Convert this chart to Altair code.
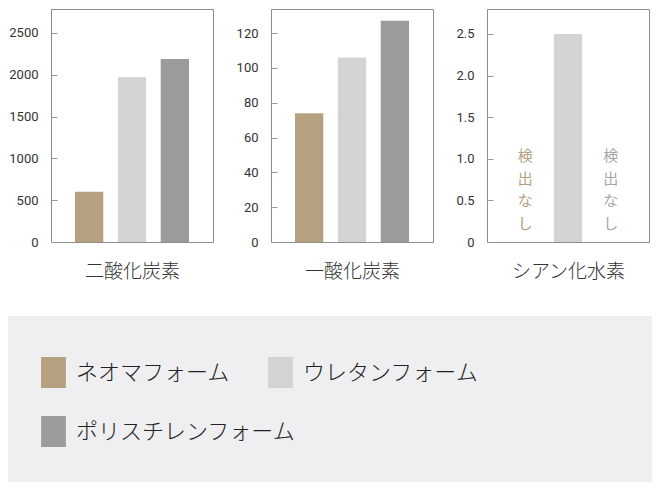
import altair as alt
import pandas as pd

# ---- data ----
MATERIALS = ["ネオマフォーム", "ウレタンフォーム", "ポリスチレンフォーム"]
COLORS = ["#b5a080", "#d3d3d3", "#9b9b9b"]
GASES = ["二酸化炭素", "一酸化炭素", "シアン化水素"]
CO2 = [600, 1970, 2190]
CO = [74, 106, 127]
HCN = [None, 2.5, None]
NOT_DETECTED = "検出なし"
HCN_NOT_DETECTED = ["ネオマフォーム", "ポリスチレンフォーム"]
TICKS_CO2 = [0, 500, 1000, 1500, 2000, 2500]
TICKS_CO = [0, 20, 40, 60, 80, 100, 120]
TICKS_HCN = [0, 0.5, 1.0, 1.5, 2.0, 2.5]

# legend rows as in the reference
ROW1 = MATERIALS[:2]
ROW2 = MATERIALS[2:]

# ---- styling / layout ----
PANEL_W = 162
PANEL_H = 233
DOMAIN_MAX = [2787, 133.8, 2.80]
NOTE_Y = 1.03
JP_FONT = "Noto Sans CJK JP"
AXIS_EXTENT = 43
BOX_W = 644 - AXIS_EXTENT
BOX_H = 166

x_scale = alt.Scale(domain=MATERIALS, paddingInner=0.34, paddingOuter=0.56)
scale_row1 = alt.Scale(domain=ROW1, range=COLORS[:2])
scale_row2 = alt.Scale(domain=ROW2, range=COLORS[2:])

legend_style = dict(
    title=None,
    orient="none",
    direction="horizontal",
    legendX=-13,
    columnPadding=34,
    symbolType="M-0.8,-1H0.8V1H-0.8Z",
    symbolSize=961,
    symbolStrokeWidth=0,
    symbolOpacity=1,
    labelFont=JP_FONT,
    labelFontSize=22,
    labelFontWeight=300,
    labelColor="#222222",
    labelOffset=7,
    labelLimit=400,
    padding=0,
)
legend_row1 = alt.Legend(legendY=348, **legend_style)
legend_row2 = alt.Legend(legendY=407, **legend_style)


def panel(gas, values, ticks, ymax, label_expr, with_notes=False):
    df = pd.DataFrame({"material": MATERIALS, "value": values}).dropna()
    x = alt.X(
        "material:N",
        scale=x_scale,
        sort=MATERIALS,
        axis=alt.Axis(
            title=gas,
            labels=False,
            ticks=False,
            domain=False,
            titleFont=JP_FONT,
            titleFontSize=19,
            titleFontWeight=300,
            titleColor="#333333",
            titlePadding=20,
        ),
    )
    y_scale = alt.Scale(domain=[0, ymax], nice=False, zero=True)
    y = alt.Y(
        "value:Q",
        scale=y_scale,
        axis=alt.Axis(
            title=None,
            values=ticks,
            labelExpr=label_expr,
            grid=False,
            domain=False,
            offset=-6,
            tickSize=6,
            tickColor="#999999",
            labelPadding=13,
            labelFont="Roboto",
            labelFontSize=13,
            labelColor="#333333",
        ),
    )
    bars_a = alt.Chart(df[df["material"].isin(ROW1)]).mark_bar().encode(
        x=x,
        y=y,
        color=alt.Color("material:N", scale=scale_row1, legend=legend_row1),
    )
    bars_b = alt.Chart(df[df["material"].isin(ROW2)]).mark_bar().encode(
        x=x,
        y=y,
        fill=alt.Fill("material:N", scale=scale_row2, legend=legend_row2),
    )
    layers = [bars_a, bars_b]
    if with_notes:
        notes = pd.DataFrame(
            {
                "material": HCN_NOT_DETECTED,
                "note": ["\n".join(NOT_DETECTED)] * len(HCN_NOT_DETECTED),
            }
        )
        text = alt.Chart(notes).mark_text(
            lineBreak="\n",
            font=JP_FONT,
            fontSize=15,
            lineHeight=22.5,
            baseline="middle",
            align="center",
        ).encode(
            x=alt.X("material:N", scale=x_scale, sort=MATERIALS),
            y=alt.datum(NOTE_Y),
            text="note:N",
            color=alt.condition(
                alt.datum.material == MATERIALS[0],
                alt.value(COLORS[0]),
                alt.value("#a6a6a6"),
            ),
        )
        layers.append(text)
    return alt.layer(*layers).properties(width=PANEL_W, height=PANEL_H)


p1 = panel(GASES[0], CO2, TICKS_CO2, DOMAIN_MAX[0], "format(datum.value, 'd')")
p2 = panel(GASES[1], CO, TICKS_CO, DOMAIN_MAX[1], "format(datum.value, 'd')")
p3 = panel(
    GASES[2],
    HCN,
    TICKS_HCN,
    DOMAIN_MAX[2],
    "datum.value == 0 ? '0' : format(datum.value, '.1f')",
    with_notes=True,
)

top = alt.hconcat(p1, p2, p3, spacing=21)

# light grey band behind the legend, spanning the full chart width
legend_panel = (
    alt.Chart(pd.DataFrame({"a": [0]}))
    .mark_rect(color="#efeff1")
    .encode(
        x=alt.value(-AXIS_EXTENT),
        x2=alt.value(BOX_W),
        y=alt.value(0),
        y2=alt.value(BOX_H),
    )
    .properties(
        width=BOX_W,
        height=BOX_H,
        view=alt.ViewBackground(strokeOpacity=0),
    )
)

chart = (
    alt.vconcat(top, legend_panel, spacing=34)
    .properties(padding=0, background="white")
    .configure_view(stroke="#8c8c8c", strokeWidth=1)
)

chart.save("out.html", embed_options={"renderer": "svg", "actions": False})
